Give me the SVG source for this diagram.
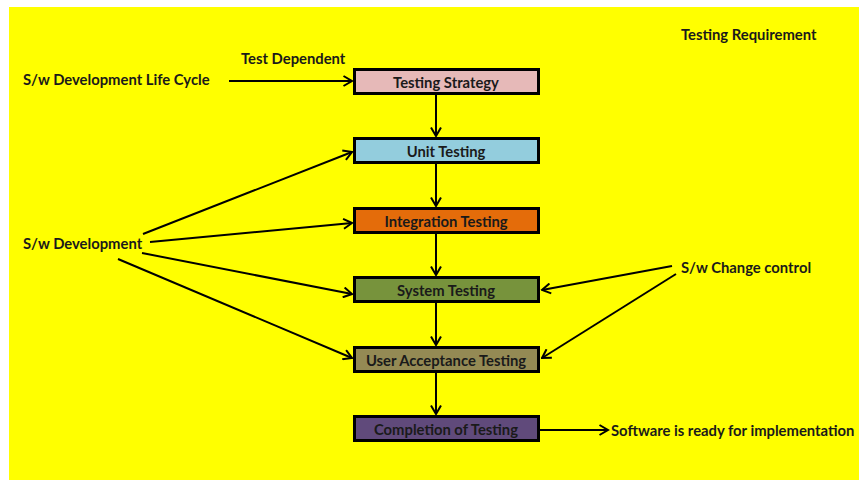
<svg xmlns="http://www.w3.org/2000/svg" width="859" height="480" viewBox="0 0 859 480">
  <style>
    .box { stroke: #000; stroke-width: 3; }
    .lbl { font-family: Lato, "Open Sans", "Liberation Sans", sans-serif; font-weight: bold; font-size: 14.8px; fill: #1a1a1a; }
    .nt { text-anchor: middle; dominant-baseline: central; }
    .conn { stroke: #000; stroke-width: 2; fill: none; marker-end: url(#arrow); }
  </style>
  <defs>
    <marker id="arrow" viewBox="0 0 12 12" refX="10.5" refY="6" markerWidth="12" markerHeight="12" markerUnits="userSpaceOnUse" orient="auto">
      <path d="M2,1 L10.5,6 L2,11" fill="none" stroke="#000" stroke-width="2"/>
    </marker>
  </defs>

  <rect x="0" y="0" width="859" height="480" fill="#fff"/>
  <rect x="9" y="7" width="850" height="473" fill="#ffff00"/>

  <!-- free labels -->
  <text class="lbl" x="681" y="40">Testing Requirement</text>
  <text class="lbl" x="241" y="64">Test Dependent</text>
  <text class="lbl" x="23" y="85">S/w Development Life Cycle</text>
  <text class="lbl" x="23" y="249">S/w Development</text>
  <text class="lbl" x="681" y="273">S/w Change control</text>
  <text class="lbl" x="611" y="436">Software is ready for implementation</text>

  <!-- process steps -->
  <g id="testing-strategy">
    <rect class="box" x="354.5" y="69.5" width="184" height="24" fill="#e6b9b8"/>
    <text class="lbl nt" x="446" y="82">Testing Strategy</text>
  </g>
  <g id="unit-testing">
    <rect class="box" x="354.5" y="138.5" width="184" height="24" fill="#93cddd"/>
    <text class="lbl nt" x="446" y="151">Unit Testing</text>
  </g>
  <g id="integration-testing">
    <rect class="box" x="354.5" y="208.5" width="184" height="24" fill="#e46c0a"/>
    <text class="lbl nt" x="446" y="221">Integration Testing</text>
  </g>
  <g id="system-testing">
    <rect class="box" x="354.5" y="277.5" width="184" height="24" fill="#77933c"/>
    <text class="lbl nt" x="446" y="290">System Testing</text>
  </g>
  <g id="user-acceptance-testing">
    <rect class="box" x="354.5" y="347.5" width="184" height="24" fill="#948a54"/>
    <text class="lbl nt" x="446" y="360">User Acceptance Testing</text>
  </g>
  <g id="completion-of-testing">
    <rect class="box" x="354.5" y="416.5" width="184" height="24" fill="#604a7b"/>
    <text class="lbl nt" x="446" y="429">Completion of Testing</text>
  </g>

  <!-- connectors -->
  <g id="connectors">
    <line class="conn" x1="229" y1="81" x2="352" y2="81"/>
    <line class="conn" x1="436" y1="95" x2="436" y2="136"/>
    <line class="conn" x1="436" y1="164" x2="436" y2="206"/>
    <line class="conn" x1="436" y1="234" x2="436" y2="275"/>
    <line class="conn" x1="436" y1="303" x2="436" y2="345"/>
    <line class="conn" x1="436" y1="373" x2="436" y2="414"/>
    <line class="conn" x1="143" y1="234" x2="352" y2="152"/>
    <line class="conn" x1="150" y1="242" x2="352" y2="223"/>
    <line class="conn" x1="142" y1="253" x2="352" y2="294"/>
    <line class="conn" x1="118" y1="259" x2="352" y2="358"/>
    <line class="conn" x1="672" y1="266" x2="542" y2="290"/>
    <line class="conn" x1="676" y1="274" x2="542" y2="358"/>
    <line class="conn" x1="540" y1="430" x2="608" y2="430"/>
  </g>
</svg>
